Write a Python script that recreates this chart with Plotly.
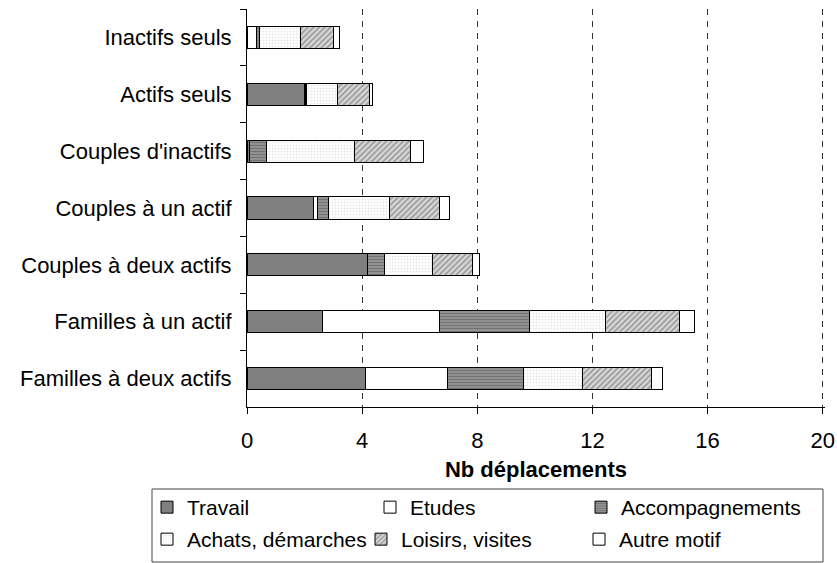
import plotly.graph_objects as go

# household types, top to bottom as in the chart
categories = ["Inactifs seuls", "Actifs seuls", "Couples d'inactifs", "Couples à un actif",
              "Couples à deux actifs", "Familles à un actif", "Familles à deux actifs"]

# trips per household, by purpose
travail = [0.03, 2.00, 0.09, 2.31, 4.18, 2.62, 4.13]
etudes = [0.30, 0.03, 0.00, 0.14, 0.02, 4.05, 2.84]
accompagnements = [0.09, 0.05, 0.58, 0.39, 0.57, 3.15, 2.62]
achats = [1.43, 1.06, 3.06, 2.12, 1.67, 2.63, 2.06]
loisirs = [1.15, 1.10, 1.95, 1.74, 1.40, 2.57, 2.39]
autre = [0.21, 0.12, 0.45, 0.33, 0.25, 0.53, 0.38]

x_ticks = [0, 4, 8, 12, 16, 20]

# name, values, fill, which legend row, legend entry width
series = [
    ("Travail", travail, dict(color="#808080"), "legend", 178),
    ("Etudes", etudes, dict(color="white"), "legend", 166),
    ("Accompagnements", accompagnements,
     dict(color="#8a8a8a", pattern=dict(shape="-", fgcolor="#474747", bgcolor="#9c9c9c", size=3, solidity=0.5)),
     "legend", 200),
    ("Achats, démarches", achats,
     dict(color="white", pattern=dict(shape=".", fgcolor="#d0d0d0", bgcolor="white", size=3, solidity=0.3)),
     "legend2", 169),
    ("Loisirs, visites", loisirs,
     dict(color="#c0c0c0", pattern=dict(shape="/", fgcolor="#555555", bgcolor="#d8d8d8", size=4, solidity=0.4)),
     "legend2", 173),
    ("Autre motif", autre, dict(color="white"), "legend2", 160),
]

fig = go.Figure()
for name, vals, marker, leg, lw in series:
    fig.add_trace(go.Bar(
        x=vals, y=categories, orientation="h", name=name,
        marker=dict(line=dict(color="black", width=1), **marker),
        width=0.39, legend=leg, legendwidth=lw,
        hovertemplate="%{y}<br>" + name + " : %{x}<extra></extra>",
    ))

font = dict(family="Liberation Sans, Arial, sans-serif", size=22, color="black")
legend_font = dict(family="Liberation Sans, Arial, sans-serif", size=21, color="black")

# plot area in pixels: x 247..825, y 9..407 (range runs a bit past 20 so its gridline is kept)
plot_l, plot_w, plot_b, plot_h = 247, 578, 407, 398

fig.update_layout(
    barmode="stack",
    width=837, height=563,
    margin=dict(l=plot_l, r=837 - plot_l - plot_w, t=9, b=563 - plot_b, autoexpand=False),
    plot_bgcolor="white", paper_bgcolor="white",
    font=font,
    xaxis=dict(
        range=[0, 20.08], tickvals=x_ticks, ticks="outside", ticklen=6, tickcolor="black",
        showline=True, linecolor="black", linewidth=1,
        showgrid=True, gridcolor="#333333", griddash="6px,6px", gridwidth=1,
        zeroline=False, ticklabelstandoff=8,
        title=dict(text="<b>Nb déplacements</b>", standoff=9, font=dict(size=22)),
    ),
    yaxis=dict(
        type="category", categoryorder="array", categoryarray=categories, autorange="reversed",
        ticks="outside", tickson="boundaries", ticklen=6, tickcolor="black",
        showline=True, linecolor="black", linewidth=1, showgrid=False,
        ticklabelstandoff=10,
    ),
    legend=dict(orientation="h", x=(147 - plot_l) / plot_w, y=(plot_b - 487) / plot_h,
                xanchor="left", yanchor="top", font=legend_font, bgcolor="rgba(0,0,0,0)", itemwidth=30,
                traceorder="normal"),
    legend2=dict(orientation="h", x=(147 - plot_l) / plot_w, y=(plot_b - 519) / plot_h,
                 xanchor="left", yanchor="top", font=legend_font, bgcolor="rgba(0,0,0,0)", itemwidth=30,
                 traceorder="normal"),
    shapes=[dict(type="rect", xref="paper", yref="paper",
                 x0=(152 - plot_l) / plot_w, x1=(823 - plot_l) / plot_w,
                 y0=(plot_b - 562) / plot_h, y1=(plot_b - 489) / plot_h,
                 line=dict(color="#444444", width=1), fillcolor="rgba(0,0,0,0)")],
)

# the page body has a default 8px margin; drop it so the figure sits at the window corner
fig.write_html("out.html", config={"displayModeBar": False},
               post_script="document.body.style.margin='0';")
